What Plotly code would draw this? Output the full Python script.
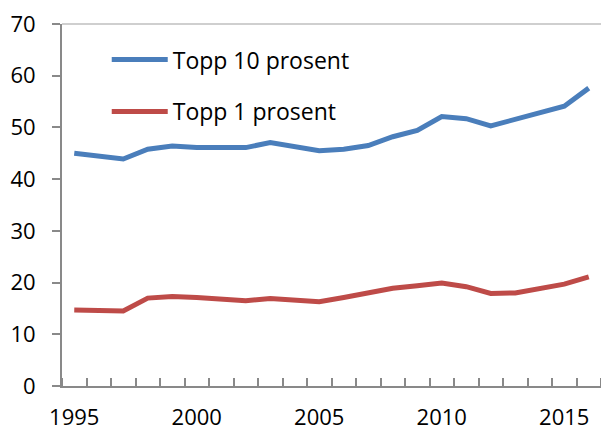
import plotly.graph_objects as go

years = list(range(1995, 2017))
topp10 = [45.0, 44.4, 43.9, 45.8, 46.4, 46.1, 46.2, 46.1, 47.1, 46.3, 45.5,
          45.8, 46.5, 48.2, 49.4, 52.1, 51.7, 50.3, 51.6, 53.0, 54.1, 57.6]
topp1 = [14.7, 14.6, 14.5, 17.0, 17.3, 17.1, 16.8, 16.5, 16.9, 16.6, 16.3,
         17.1, 17.9, 18.9, 19.4, 19.9, 19.2, 17.9, 18.0, 18.8, 19.7, 21.1]
series_names = ["Topp 10 prosent", "Topp 1 prosent"]
x_tick_labels = [1995, 2000, 2005, 2010, 2015]
y_ticks = [0, 10, 20, 30, 40, 50, 60, 70]

FONT = "Open Sans"
AXIS = "#898989"

fig = go.Figure()
fig.add_trace(go.Scatter(x=years, y=topp10, mode="lines", name=series_names[0],
                         line=dict(color="#4A7EBB", width=5), legendgroup="a"))
fig.add_trace(go.Scatter(x=years, y=topp1, mode="lines", name=series_names[1],
                         line=dict(color="#BE4B48", width=5), legendgroup="b"))

fig.update_layout(
    width=601, height=430,
    margin=dict(l=62, r=0, t=24, b=44, autoexpand=False),
    paper_bgcolor="white", plot_bgcolor="white",
    font=dict(family=FONT, size=22, color="#000000"),
    showlegend=True,
    legend=dict(x=0.083, y=0.961, xanchor="left", yanchor="top",
                bgcolor="rgba(0,0,0,0)", font=dict(size=23),
                tracegroupgap=19, itemwidth=56),
    xaxis=dict(range=[1994.5, 2016.5], tickvals=x_tick_labels,
               ticks="", showgrid=False, zeroline=False, automargin=False,
               showline=True, linecolor=AXIS, linewidth=2,
               ticklabelstandoff=11,
               minor=dict(ticks="inside", tick0=1994.5, dtick=1,
                          ticklen=8, tickwidth=2, tickcolor=AXIS,
                          showgrid=False)),
    yaxis=dict(range=[0, 70], tickvals=y_ticks, ticks="outside",
               ticklen=8, tickwidth=2, tickcolor=AXIS, automargin=False,
               showgrid=False, zeroline=False,
               showline=True, linecolor=AXIS, linewidth=2,
               ticklabelstandoff=12),
    shapes=[dict(type="line", xref="paper", yref="paper", x0=0, x1=1,
                 y0=1, y1=1, line=dict(color="#BFBFBF", width=1.5))],
)

fig.write_html("out.html", config={"displayModeBar": False},
               post_script="document.body.style.margin='0';document.body.style.overflow='hidden';")
